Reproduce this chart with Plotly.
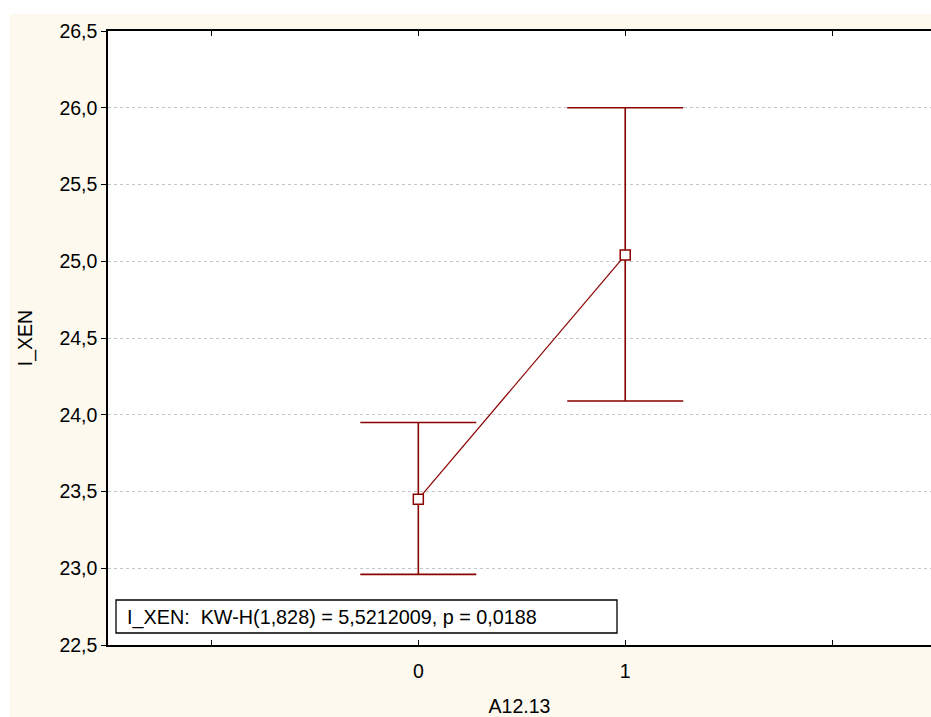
import plotly.graph_objects as go

categories = [0, 1]
means = [23.45, 25.04]
upper = [23.95, 26.00]
lower = [22.96, 24.09]
y_ticks = [22.5, 23.0, 23.5, 24.0, 24.5, 25.0, 25.5, 26.0, 26.5]
x_ticks = [-1, 0, 1, 2]
x_ticktext = ["", "0", "1", ""]
stat_text = "I_XEN:  KW-H(1,828) = 5,5212009, p = 0,0188"

RED = "#8B0000"
CREAM = "#FDF9EE"
W, H = 931, 717
ML, MT, MB, MR = 108, 31, 72, 0
FONT = "Liberation Sans, Arial, sans-serif"

fig = go.Figure()
fig.add_trace(go.Scatter(
    x=categories, y=means, mode="lines+markers",
    line=dict(color=RED, width=1.2),
    marker=dict(symbol="square", size=10, color="white", line=dict(color=RED, width=1.5)),
    error_y=dict(type="data", symmetric=False,
                 array=[u - m for u, m in zip(upper, means)],
                 arrayminus=[m - l for m, l in zip(means, lower)],
                 color=RED, thickness=1.6, width=58),
    showlegend=False,
))

pw = W - ML - MR
ph = H - MT - MB


def px_x(px):
    return (px - ML) / pw


def px_y(py):
    return (H - MB - py) / ph


fig.update_layout(
    width=W, height=H,
    margin=dict(l=ML, r=MR, t=MT, b=MB),
    paper_bgcolor=CREAM, plot_bgcolor="white",
    separators=",.",
    font=dict(family=FONT, size=19.5, color="black"),
    xaxis=dict(range=[-1.5, 2.478], tickvals=x_ticks, ticktext=x_ticktext,
               ticks="inside", ticklen=5, tickcolor="black", tickwidth=1,
               showline=True, linecolor="black", linewidth=1.5, mirror="allticks",
               showgrid=False, zeroline=False, tickfont=dict(size=19.5),
               ticklabelstandoff=8,
               title=dict(text="A12.13", font=dict(size=19.5), standoff=19)),
    yaxis=dict(range=[22.5, 26.5], tickvals=y_ticks, tickformat=".1f",
               ticks="outside", ticklen=5, tickcolor="black", tickwidth=1,
               showline=True, linecolor="black", linewidth=1.5, mirror=False,
               showgrid=True, gridcolor="#c4c4c4", griddash="dot", gridwidth=1,
               zeroline=False, tickfont=dict(size=19.5),
               title=dict(text="I_XEN", font=dict(size=19.5), standoff=22)),
    shapes=[
        dict(type="rect", xref="paper", yref="paper", layer="above",
             x0=px_x(-5), x1=px_x(W + 5), y0=px_y(14), y1=px_y(-5),
             fillcolor="white", line=dict(width=0)),
        dict(type="rect", xref="paper", yref="paper", layer="above",
             x0=px_x(-5), x1=px_x(10), y0=px_y(H + 5), y1=px_y(-5),
             fillcolor="white", line=dict(width=0)),
        dict(type="rect", xref="paper", yref="paper", layer="above",
             x0=px_x(116), x1=px_x(617), y0=px_y(633), y1=px_y(600),
             fillcolor="white", line=dict(color="black", width=1.3)),
    ],
    annotations=[dict(
        text=stat_text, xref="paper", yref="paper",
        x=px_x(125), y=px_y(617), xanchor="left", yanchor="middle",
        showarrow=False, align="left", font=dict(size=19.8),
    )],
)
fig.write_html("out.html", config={"displayModeBar": False},
               post_script="document.body.style.margin='0px';document.body.style.overflow='hidden';")
